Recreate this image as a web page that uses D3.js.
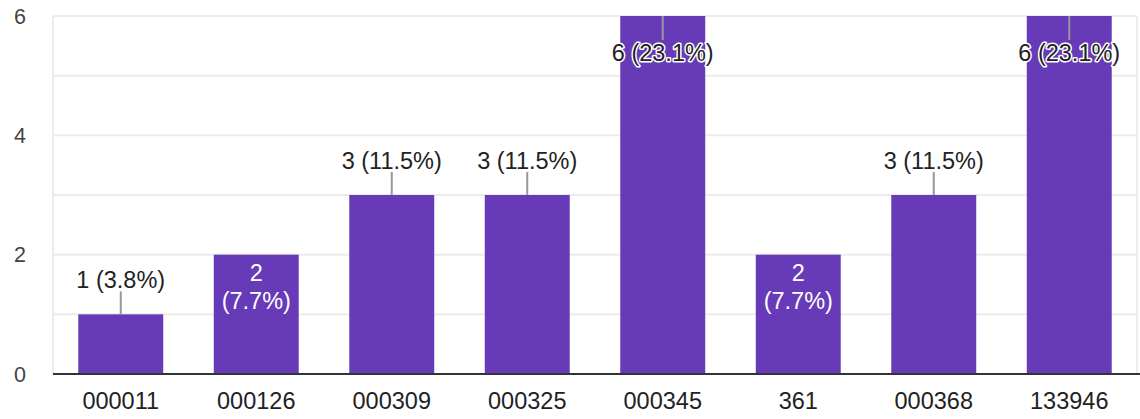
<!DOCTYPE html>
<html>
<head>
<meta charset="utf-8">
<script src="https://cdn.jsdelivr.net/npm/d3@7"></script>
<style>
  body { margin: 0; background: #fff; }
  text { font-family: Arial, "Liberation Sans", sans-serif; }
</style>
</head>
<body>
<div class="chart"></div>
<script>
  'use strict';

  var categories = ['000011', '000126', '000309', '000325', '000345', '361', '000368', '133946'];
  var counts     = [1, 2, 3, 3, 6, 2, 3, 6];
  var percents   = ['3.8%', '7.7%', '11.5%', '11.5%', '23.1%', '7.7%', '11.5%', '23.1%'];
  // where google put each label: above the bar, inside it, or pinned at the top
  var labelModes = ['above', 'inside', 'above', 'above', 'top', 'inside', 'above', 'top'];
  var yTicks     = [0, 2, 4, 6];

  var width = 1140, height = 419;
  var margin = {top: 16, right: 3, bottom: 45, left: 53};
  var fontSize = 23.5;

  var svg = d3.select('.chart')
    .append('svg')
    .attr('width', width)
    .attr('height', height);

  var x = d3.scaleBand()
    .domain(categories)
    .range([margin.left, width - margin.right])
    .paddingInner(0.373)
    .paddingOuter(0.1865);

  var y = d3.scaleLinear()
    .domain([0, 6])
    .range([height - margin.bottom, margin.top]);

  // gridlines every unit
  svg.append('g').selectAll('line')
    .data(d3.range(1, 7))
    .enter().append('line')
    .attr('x1', margin.left).attr('x2', width - margin.right)
    .attr('y1', function(d){ return y(d); })
    .attr('y2', function(d){ return y(d); })
    .attr('stroke', '#ececec')
    .attr('stroke-width', 2);

  // side borders
  svg.append('g').selectAll('line')
    .data([margin.left, width - margin.right])
    .enter().append('line')
    .attr('x1', function(d){ return d; }).attr('x2', function(d){ return d; })
    .attr('y1', y(6)).attr('y2', y(0))
    .attr('stroke', '#ececec')
    .attr('stroke-width', 2);

  // y tick labels
  svg.append('g').selectAll('text')
    .data(yTicks)
    .enter().append('text')
    .attr('x', 20)
    .attr('y', function(d){ return y(d); })
    .attr('dy', '0.36em')
    .attr('text-anchor', 'middle')
    .attr('font-size', 21.5)
    .attr('fill', '#444')
    .text(function(d){ return d; });

  var data = categories.map(function(c, i){
    return {cat: c, n: counts[i], pct: percents[i], mode: labelModes[i]};
  });

  // bars
  svg.append('g').selectAll('rect')
    .data(data)
    .enter().append('rect')
    .attr('x', function(d){ return x(d.cat); })
    .attr('y', function(d){ return y(d.n); })
    .attr('width', x.bandwidth())
    .attr('height', function(d){ return y(0) - y(d.n); })
    .attr('fill', '#673ab7');

  // baseline
  svg.append('line')
    .attr('x1', margin.left).attr('x2', width)
    .attr('y1', y(0)).attr('y2', y(0))
    .attr('stroke', '#333')
    .attr('stroke-width', 2);

  // x labels
  svg.append('g').selectAll('text')
    .data(data)
    .enter().append('text')
    .attr('x', function(d){ return x(d.cat) + x.bandwidth() / 2; })
    .attr('y', y(0) + 35)
    .attr('text-anchor', 'middle')
    .attr('font-size', fontSize)
    .attr('fill', '#222')
    .text(function(d){ return d.cat; });

  // value labels
  var labels = svg.append('g');
  data.forEach(function(d){
    var cx = x(d.cat) + x.bandwidth() / 2;
    var top = y(d.n);
    var txt = d.n + ' (' + d.pct + ')';

    if(d.mode === 'inside'){
      labels.append('text')
        .attr('x', cx).attr('y', top + 26)
        .attr('text-anchor', 'middle').attr('font-size', fontSize)
        .attr('fill', '#fff')
        .text(d.n);
      labels.append('text')
        .attr('x', cx).attr('y', top + 54)
        .attr('text-anchor', 'middle').attr('font-size', fontSize)
        .attr('fill', '#fff')
        .text('(' + d.pct + ')');
      return;
    }

    var textY = d.mode === 'top' ? top + 45 : top - 26;
    var lineTop = d.mode === 'top' ? top : top - 23;
    var lineBot = d.mode === 'top' ? top + 24 : top;

    labels.append('line')
      .attr('x1', cx).attr('x2', cx)
      .attr('y1', lineTop).attr('y2', lineBot)
      .attr('stroke', '#999')
      .attr('stroke-width', 2);

    var t = labels.append('text')
      .attr('x', cx).attr('y', textY)
      .attr('text-anchor', 'middle').attr('font-size', fontSize)
      .attr('fill', '#222')
      .text(txt);
    if(d.mode === 'top'){
      t.attr('stroke', '#fff')
        .attr('stroke-width', 3)
        .attr('paint-order', 'stroke')
        .attr('stroke-linejoin', 'round');
    }
  });
</script>
</body>
</html>
